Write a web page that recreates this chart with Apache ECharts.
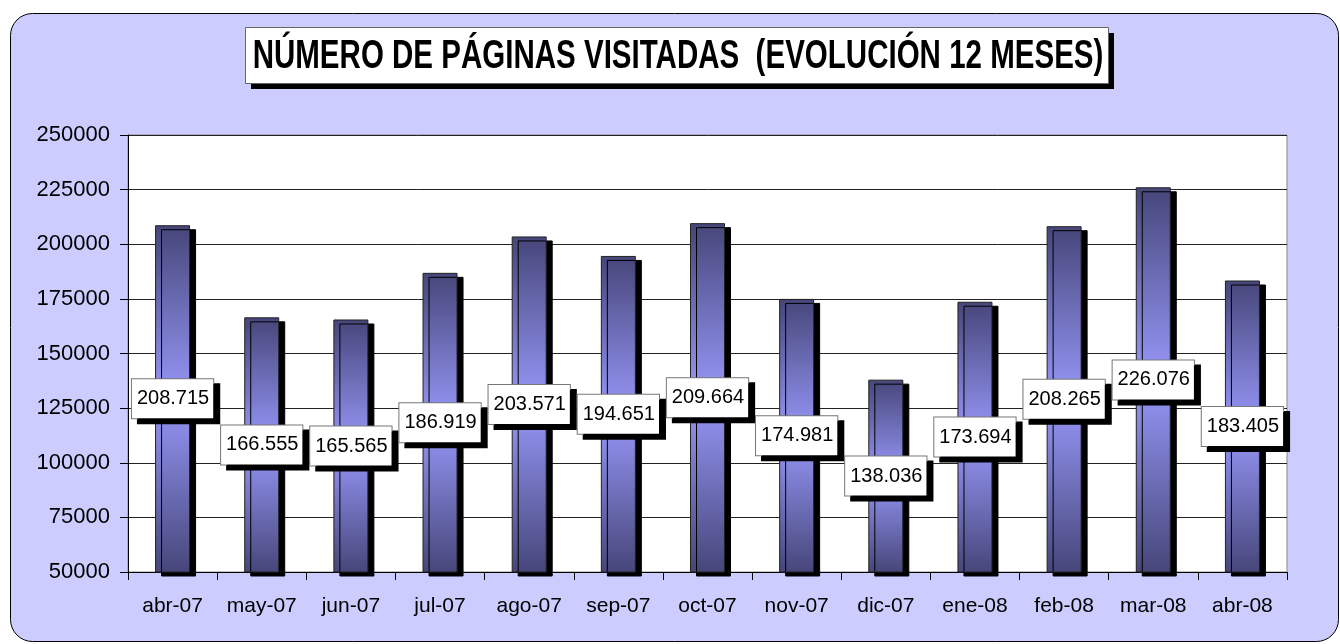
<!DOCTYPE html>
<html>
<head>
<meta charset="utf-8">
<script src="https://cdn.jsdelivr.net/npm/echarts@6/dist/echarts.min.js"></script>
<style>
  html, body { margin: 0; padding: 0; background: #fff; }
  #chart { width: 1340px; height: 644px; }
</style>
</head>
<body>
<div id="chart"></div>
<script>
  // datos
  var meses = ['abr-07', 'may-07', 'jun-07', 'jul-07', 'ago-07', 'sep-07', 'oct-07',
    'nov-07', 'dic-07', 'ene-08', 'feb-08', 'mar-08', 'abr-08']
  var paginas = [208715, 166555, 165565, 186919, 203571, 194651, 209664,
    174981, 138036, 173694, 208265, 226076, 183405]
  var titulo = 'NÚMERO DE PÁGINAS VISITADAS  (EVOLUCIÓN 12 MESES)'

  var chart = echarts.init(document.getElementById('chart'))

  // 208715 -> 208.715
  function fmt(v) {
    return String(v).replace(/\B(?=(\d{3})+(?!\d))/g, '.')
  }

  var fuente = '"Liberation Sans", Arial, sans-serif'

  chart.setOption({
    animation: false,
    textStyle: { fontFamily: fuente },
    graphic: [{
      type: 'rect',
      z: -10,
      silent: true,
      shape: { x: 10.5, y: 13.5, width: 1328, height: 628, r: 22 },
      style: { fill: '#ccccff', stroke: '#000', lineWidth: 1 }
    }, {
      // sombra del titulo
      type: 'rect',
      silent: true,
      shape: { x: 251, y: 33, width: 863, height: 56 },
      style: { fill: '#000' }
    }, {
      type: 'rect',
      silent: true,
      shape: { x: 245.5, y: 27.5, width: 863, height: 56 },
      style: { fill: '#fff', stroke: '#666', lineWidth: 1 }
    }, {
      type: 'text',
      silent: true,
      x: 678,
      y: 57,
      scaleX: 0.72,
      style: {
        text: titulo,
        align: 'center',
        verticalAlign: 'middle',
        fontFamily: fuente,
        fontSize: 41,
        fontWeight: 'bold',
        fill: '#000'
      }
    }],
    grid: {
      left: 128,
      right: 53,
      top: 135,
      bottom: 72,
      show: true,
      backgroundColor: '#fff',
      borderColor: '#888',
      borderWidth: 1
    },
    xAxis: {
      type: 'category',
      data: meses,
      axisLine: { lineStyle: { color: '#000' } },
      axisTick: { show: true, interval: 0, length: 8, lineStyle: { color: '#000' } },
      axisLabel: { color: '#000', fontSize: 21, margin: 24, interval: 0 }
    },
    yAxis: {
      type: 'value',
      min: 50000,
      max: 250000,
      interval: 25000,
      axisLine: { show: true, lineStyle: { color: '#000' } },
      axisTick: { show: true, length: 8, lineStyle: { color: '#000' } },
      axisLabel: {
        color: '#000',
        fontSize: 22,
        margin: 18,
        formatter: function (v) { return String(v) }
      },
      splitLine: { lineStyle: { color: '#222', width: 1 } }
    },
    series: [{
      type: 'bar',
      data: paginas,
      barWidth: 35,
      itemStyle: {
        color: new echarts.graphic.LinearGradient(0, 0, 0, 1, [
          { offset: 0, color: '#46467a' },
          { offset: 0.5, color: '#9898fa' },
          { offset: 1, color: '#46467a' }
        ]),
        borderColor: '#222',
        borderWidth: 1,
        shadowColor: '#000',
        shadowBlur: 0,
        shadowOffsetX: 6,
        shadowOffsetY: 4
      },
      label: {
        show: true,
        position: 'inside',
        formatter: function (p) { return fmt(p.value) },
        color: '#000',
        fontSize: 20,
        backgroundColor: '#fff',
        borderColor: '#777',
        borderWidth: 1,
        padding: [10, 4, 9, 5],
        shadowColor: '#000',
        shadowBlur: 0,
        shadowOffsetX: 6,
        shadowOffsetY: 5
      }
    }]
  })
</script>
</body>
</html>
